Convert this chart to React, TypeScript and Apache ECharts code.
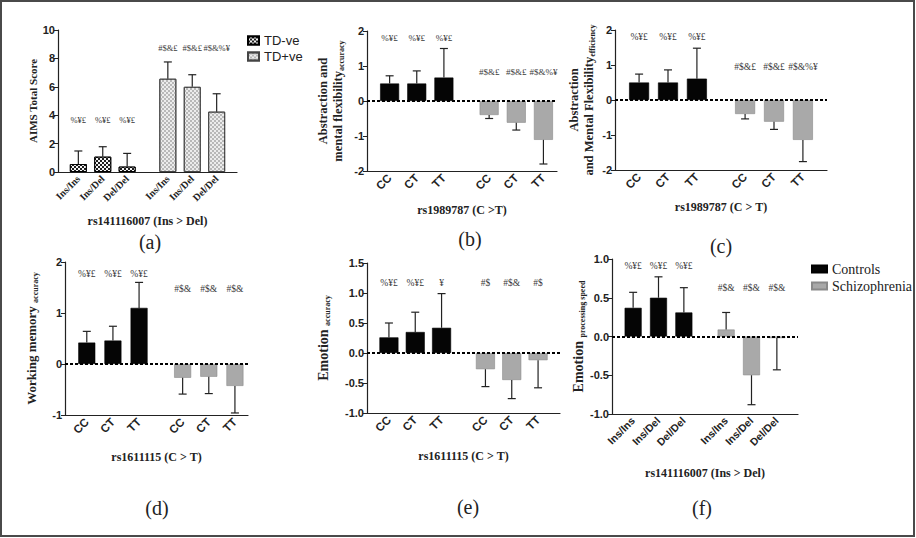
import React, { useEffect, useRef } from "react";
import * as echarts from "echarts";

const SERIF = '"Liberation Serif", "Times New Roman", serif';
const SANS = '"Liberation Sans", Arial, sans-serif';

// ---------- categories ----------
const snpGenotypes = ["CC", "CT", "TT"];
const insGenotypes = ["Ins/Ins", "Ins/Del", "Del/Del"];

// ---------- (a) AIMS total score ----------
const aTdNegMean = [0.56, 1.08, 0.38];
const aTdNegErr = [1.48, 1.78, 1.31];
const aTdPosMean = [6.57, 6.0, 4.25];
const aTdPosErr = [7.75, 6.85, 5.51];
const aTdNegNotes = ["%¥£", "%¥£", "%¥£"];
const aTdPosNotes = ["#$&£", "#$&£", "#$&%¥"];

// ---------- (b) abstraction accuracy ----------
const bCtrlMean = [0.5, 0.5, 0.67];
const bCtrlErr = [0.72, 0.86, 1.5];
const bSczMean = [-0.4, -0.62, -1.11];
const bSczErr = [-0.5, -0.83, -1.8];
const bCtrlNotes = ["%¥£", "%¥£", "%¥£"];
const bSczNotes = ["#$&£", "#$&£", "#$&%¥"];

// ---------- (c) abstraction efficiency ----------
const cCtrlMean = [0.5, 0.5, 0.61];
const cCtrlErr = [0.74, 0.86, 1.48];
const cSczMean = [-0.4, -0.62, -1.14];
const cSczErr = [-0.54, -0.84, -1.76];
const cCtrlNotes = ["%¥£", "%¥£", "%¥£"];
const cSczNotes = ["#$&£", "#$&£", "#$&%¥"];

// ---------- (d) working memory accuracy ----------
const dCtrlMean = [0.42, 0.46, 1.1];
const dCtrlErr = [0.64, 0.74, 1.6];
const dSczMean = [-0.27, -0.25, -0.43];
const dSczErr = [-0.59, -0.58, -0.96];
const dCtrlNotes = ["%¥£", "%¥£", "%¥£"];
const dSczNotes = ["#$&", "#$&", "#$&"];

// ---------- (e) emotion accuracy ----------
const eCtrlMean = [0.26, 0.35, 0.42];
const eCtrlErr = [0.5, 0.68, 0.99];
const eSczMean = [-0.27, -0.45, -0.12];
const eSczErr = [-0.56, -0.76, -0.58];
const eCtrlNotes = ["%¥£", "%¥£", "¥"];
const eSczNotes = ["#$", "#$&", "#$"];

// ---------- (f) emotion processing speed ----------
const fCtrlMean = [0.37, 0.5, 0.31];
const fCtrlErr = [0.57, 0.77, 0.63];
const fSczMean = [0.09, -0.5, -0.02];
const fSczErr = [0.31, -0.88, -0.43];
const fCtrlNotes = ["%¥£", "%¥£", "%¥£"];
const fSczNotes = ["#$&", "#$&", "#$&"];

// ---------- y-axis ranges [min, max, step, decimals] ----------
const aYAxis = [0, 10, 2, 0];
const bYAxis = [-2, 2, 1, 0];
const cYAxis = [-2, 2, 1, 0];
const dYAxis = [-1, 2, 1, 0];
const eYAxis = [-1, 1.5, 0.5, 1];
const fYAxis = [-1, 1, 0.5, 1];

// ---------- styles ----------
const tdNegStyle = {
  color: "#1e1e1e",
  borderColor: "#000",
  borderWidth: 1,
  decal: {
    symbol: "rect",
    symbolSize: 1,
    color: "#f4f4f4",
    dashArrayX: [[2, 2], [0, 2, 2, 0]],
    dashArrayY: [2, 0],
  },
};
const tdPosStyle = {
  color: "#ececec",
  borderColor: "#444",
  borderWidth: 1,
  decal: {
    symbol: "rect",
    symbolSize: 1,
    color: "#b8b8b8",
    dashArrayX: [[2, 2], [0, 2, 2, 0]],
    dashArrayY: [2, 0],
  },
};
const ctrlStyle = { color: "#050505", borderColor: "#000", borderWidth: 0.6 };
const sczStyle = { color: "#a9a9a9", borderColor: "#8a8a8a", borderWidth: 0.6 };

const panels = [
  {
    rect: [58, 30, 179, 142], y: aYAxis, labels: insGenotypes, lead: 2, trail: 2, barW: 17,
    xFont: SERIF, xFontSize: 10, noteFont: 8.5,
    groups: [
      { name: "TD-ve", mean: aTdNegMean, err: aTdNegErr, notes: aTdNegNotes, noteY: 3.65, style: tdNegStyle },
      { name: "TD+ve", mean: aTdPosMean, err: aTdPosErr, notes: aTdPosNotes, noteY: 8.7, style: tdPosStyle },
    ],
    zeroLine: false,
    yName: "{t|AIMS Total Score}", yFont: 11, yNameGap: 16,
    xName: "rs141116007 (Ins > Del)", xNameGap: 43,
    tag: "(a)", tagPos: [150, 242],
  },
  {
    rect: [367, 31, 190, 140], y: bYAxis, labels: snpGenotypes, lead: 2, trail: 1, barW: 19,
    xFont: SANS, xFontSize: 11.5, noteFont: 9,
    groups: [
      { name: "Controls", mean: bCtrlMean, err: bCtrlErr, notes: bCtrlNotes, noteY: 1.81, style: ctrlStyle },
      { name: "Schizophrenia", mean: bSczMean, err: bSczErr, notes: bSczNotes, noteY: 0.84, style: sczStyle },
    ],
    zeroLine: true,
    yName: "{t|Abstraction and}\n{t|mental flexibility}{s|accuracy}", yFont: 12.5, yNameGap: 22,
    xName: "rs1989787 (C >T)", xNameGap: 33,
    tag: "(b)", tagPos: [470, 239],
  },
  {
    rect: [615, 30, 212, 140], y: cYAxis, labels: snpGenotypes, lead: 2, trail: 2, barW: 20,
    xFont: SANS, xFontSize: 11.5, noteFont: 9.5,
    groups: [
      { name: "Controls", mean: cCtrlMean, err: cCtrlErr, notes: cCtrlNotes, noteY: 1.8, style: ctrlStyle },
      { name: "Schizophrenia", mean: cSczMean, err: cSczErr, notes: cSczNotes, noteY: 0.94, style: sczStyle },
    ],
    zeroLine: true,
    yName: "{t|Abstraction}\n{t|and Mental Flexibility}{s|efficiency}", yFont: 12.5, yNameGap: 19,
    xName: "rs1989787 (C > T)", xNameGap: 31,
    tag: "(c)", tagPos: [721, 246],
  },
  {
    rect: [65, 262, 183, 153], y: dYAxis, labels: snpGenotypes, lead: 2, trail: 1, barW: 17,
    xFont: SANS, xFontSize: 11.5, noteFont: 9.5,
    groups: [
      { name: "Controls", mean: dCtrlMean, err: dCtrlErr, notes: dCtrlNotes, noteY: 1.76, style: ctrlStyle },
      { name: "Schizophrenia", mean: dSczMean, err: dSczErr, notes: dSczNotes, noteY: 1.47, style: sczStyle },
    ],
    zeroLine: true,
    yName: "{t|Working memory }{s|accuracy}", yFont: 13, yNameGap: 26,
    xName: "rs1611115 (C > T)", xNameGap: 36,
    tag: "(d)", tagPos: [157, 508],
  },
  {
    rect: [367, 263, 193, 150], y: eYAxis, labels: snpGenotypes, lead: 2, trail: 2, barW: 19,
    xFont: SANS, xFontSize: 11.5, noteFont: 9.5,
    groups: [
      { name: "Controls", mean: eCtrlMean, err: eCtrlErr, notes: eCtrlNotes, noteY: 1.17, style: ctrlStyle },
      { name: "Schizophrenia", mean: eSczMean, err: eSczErr, notes: eSczNotes, noteY: 1.17, style: sczStyle },
    ],
    zeroLine: true,
    yName: "{t|Emotion }{s|accuracy}", yFont: 14, yNameGap: 36,
    xName: "rs1611115 (C > T)", xNameGap: 37,
    tag: "(e)", tagPos: [468, 507],
  },
  {
    rect: [612, 259, 186, 155], y: fYAxis, labels: insGenotypes, lead: 2, trail: 2, barW: 17,
    xFont: SANS, xFontSize: 10.5, noteFont: 9.5,
    groups: [
      { name: "Controls", mean: fCtrlMean, err: fCtrlErr, notes: fCtrlNotes, noteY: 0.91, style: ctrlStyle },
      { name: "Schizophrenia", mean: fSczMean, err: fSczErr, notes: fSczNotes, noteY: 0.62, style: sczStyle },
    ],
    zeroLine: true,
    yName: "{t|Emotion }{s|processing speed}", yFont: 14, yNameGap: 24,
    xName: "rs141116007 (Ins > Del)", xNameGap: 53,
    tag: "(f)", tagPos: [702, 508],
  },
];

function buildSlots(labels: string[], lead: number, trail: number) {
  const cats: string[] = [];
  const slots: number[] = [];
  for (let i = 0; i < lead; i++) cats.push("");
  for (let g = 0; g < 2; g++) {
    labels.forEach((lab, k) => {
      slots.push(cats.length);
      cats.push(lab);
      if (k < labels.length - 1) cats.push("", "");
    });
    if (g === 0) cats.push("", "", "", "");
  }
  for (let i = 0; i < trail; i++) cats.push("");
  return { cats, slots };
}

function buildOption() {
  const grids: any[] = [];
  const xAxes: any[] = [];
  const yAxes: any[] = [];
  const series: any[] = [];
  const graphics: any[] = [];

  panels.forEach((p, gi) => {
    const { cats, slots } = buildSlots(p.labels, p.lead, p.trail);
    const [yMin, yMax, yStep, yDec] = p.y;
    grids.push({
      left: p.rect[0], top: p.rect[1], width: p.rect[2], height: p.rect[3],
      containLabel: false, outerBoundsMode: "none",
    });
    xAxes.push({
      type: "category", gridIndex: gi, data: cats, boundaryGap: true,
      axisLine: { onZero: false, lineStyle: { color: "#222", width: 1.2 } },
      axisTick: {
        alignWithLabel: true, length: 4,
        interval: (_i: number, v: string) => v !== "",
        lineStyle: { color: "#222", width: 1 },
      },
      axisLabel: {
        interval: 0, rotate: 45, margin: 5, fontFamily: p.xFont, fontWeight: "bold",
        fontSize: p.xFontSize, color: "#222",
      },
      splitLine: { show: false },
      name: p.xName, nameLocation: "middle", nameGap: p.xNameGap,
      nameTextStyle: { fontFamily: SERIF, fontWeight: "bold", fontSize: 12, color: "#222" },
    });
    yAxes.push({
      type: "value", gridIndex: gi, min: yMin, max: yMax, interval: yStep,
      axisLine: { show: true, onZero: false, lineStyle: { color: "#222", width: 1.2 } },
      axisTick: { show: true, length: 4, lineStyle: { color: "#222" } },
      axisLabel: {
        formatter: (v: number) => (yDec ? v.toFixed(yDec) : String(v)),
        fontFamily: SANS, fontWeight: "bold", fontSize: 11, color: "#222", margin: 3,
      },
      splitLine: { show: false },
      name: p.yName, nameLocation: "middle", nameRotate: 90, nameGap: p.yNameGap,
      nameTextStyle: {
        rich: {
          t: { fontFamily: SERIF, fontWeight: "bold", fontSize: p.yFont, color: "#222", lineHeight: p.yFont + 2 },
          s: { fontFamily: SERIF, fontWeight: "bold", fontSize: 8, color: "#222", verticalAlign: "bottom" },
        },
      },
    });

    p.groups.forEach((g, k) => {
      const data: any[] = cats.map(() => "-");
      g.mean.forEach((v, j) => { data[slots[k * 3 + j]] = v; });
      const s: any = {
        type: "bar", name: g.name, xAxisIndex: gi, yAxisIndex: gi, data,
        barWidth: p.barW, barGap: "-100%", itemStyle: g.style, z: 2,
      };
      if (k === 0 && p.zeroLine) {
        s.markLine = {
          silent: true, symbol: ["none", "none"], label: { show: false },
          lineStyle: { color: "#000", type: [3, 2], width: 1.8 },
          data: [{ yAxis: 0 }], z: 4,
        };
      }
      series.push(s);
    });

    const errData: number[][] = [];
    p.groups.forEach((g, k) => g.mean.forEach((v, j) => errData.push([slots[k * 3 + j], v, g.err[j]])));
    series.push({
      type: "custom", xAxisIndex: gi, yAxisIndex: gi, data: errData, z: 5, silent: true,
      encode: { x: 0, y: [1, 2] },
      renderItem: (_params: any, api: any) => {
        const x = api.value(0);
        const p0 = api.coord([x, api.value(1)]);
        const p1 = api.coord([x, api.value(2)]);
        const cw = 4;
        const st = { stroke: "#222", lineWidth: 1.2 };
        return {
          type: "group",
          children: [
            { type: "line", shape: { x1: p0[0], y1: p0[1], x2: p1[0], y2: p1[1] }, style: st },
            { type: "line", shape: { x1: p1[0] - cw, y1: p1[1], x2: p1[0] + cw, y2: p1[1] }, style: st },
          ],
        };
      },
    });

    const noteData: number[][] = [];
    const noteTexts: string[] = [];
    p.groups.forEach((g, k) => g.notes.forEach((t, j) => {
      noteData.push([slots[k * 3 + j], g.noteY]);
      noteTexts.push(t);
    }));
    const nf = p.noteFont;
    series.push({
      type: "custom", xAxisIndex: gi, yAxisIndex: gi, data: noteData, z: 6, silent: true,
      renderItem: (params: any, api: any) => {
        const pt = api.coord([api.value(0), api.value(1)]);
        return {
          type: "text", x: pt[0], y: pt[1],
          style: {
            text: noteTexts[params.dataIndex], align: "center", verticalAlign: "middle",
            font: `${nf}px ${SERIF}`, fill: "#3a3a3a",
          },
        };
      },
    });

    graphics.push({
      type: "text", x: p.tagPos[0], y: p.tagPos[1],
      style: { text: p.tag, align: "center", verticalAlign: "middle", font: `20px ${SERIF}`, fill: "#222" },
    });
  });

  graphics.push({
    type: "rect", shape: { x: 1, y: 1, width: 913, height: 535 },
    style: { fill: "none", stroke: "#4a4a4a", lineWidth: 2 }, silent: true,
  });

  return {
    animation: false,
    backgroundColor: "#fff",
    grid: grids,
    xAxis: xAxes,
    yAxis: yAxes,
    series,
    graphic: graphics,
    legend: [
      {
        data: ["TD-ve", "TD+ve"], orient: "vertical", left: 247, top: 34, icon: "rect",
        itemWidth: 11, itemHeight: 8, itemGap: 3, padding: 0,
        textStyle: { fontFamily: SANS, fontSize: 13, color: "#222" },
      },
      {
        data: ["Controls", "Schizophrenia"], orient: "vertical", left: 811, top: 262, icon: "rect",
        itemWidth: 15, itemHeight: 7, itemGap: 3, padding: 0,
        textStyle: { fontFamily: SERIF, fontSize: 14, color: "#222" },
      },
    ],
  };
}

export default function App() {
  const ref = useRef<HTMLDivElement>(null);
  useEffect(() => {
    if (!ref.current) return;
    const chart = echarts.init(ref.current, null, { renderer: "svg" });
    chart.setOption(buildOption() as any);
    return () => chart.dispose();
  }, []);
  return (
    <div
      ref={ref}
      style={{ position: "fixed", left: 0, top: 0, width: 916, height: 538, background: "#fff" }}
    />
  );
}
